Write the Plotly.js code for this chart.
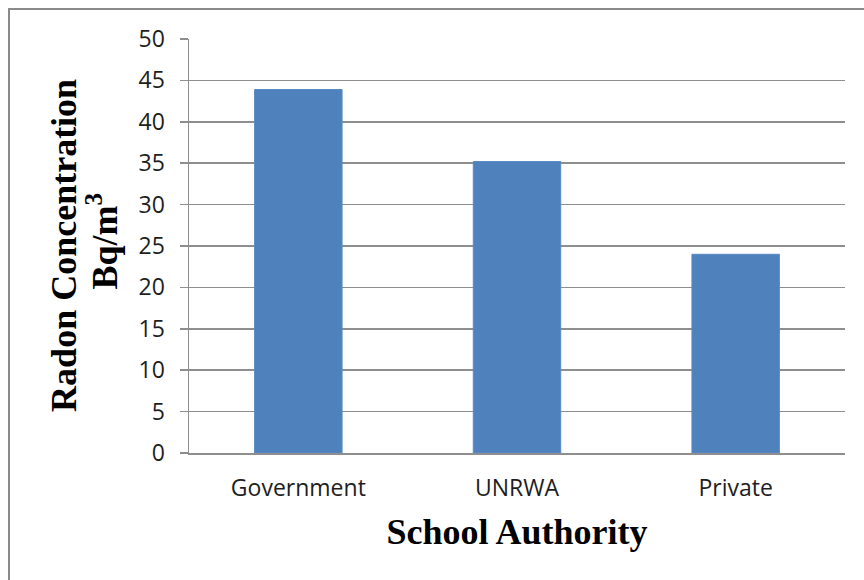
<!DOCTYPE html>
<html>
<head>
<meta charset="utf-8">
<script src="https://cdn.plot.ly/plotly-3.0.1.min.js"></script>
<style>
  html, body { margin: 0; padding: 0; background: #ffffff; overflow: hidden; }
  #wrap { position: relative; width: 864px; height: 580px; }
  #frame { position: absolute; left: 8px; top: 8px; width: 900px; height: 620px;
           border: 2px solid #8a8a8a; box-sizing: border-box; pointer-events: none; }
  #chart { position: absolute; left: 0; top: 0; width: 864px; height: 580px; }
</style>
</head>
<body>
<div id="wrap">
  <div id="chart"></div>
  <div id="frame"></div>
</div>
<script>
// Mean indoor radon level by school authority
const authorities = ['Government', 'UNRWA', 'Private'];
const radonLevels = [43.9, 35.2, 24.0];
const yTickValues = [0, 5, 10, 15, 20, 25, 30, 35, 40, 45, 50];
const yTitleLines = ['Radon Concentration', 'Bq/m<sup>3</sup>'];

const trace = {
  type: 'bar',
  x: authorities,
  y: radonLevels,
  marker: { color: '#4f81bd', line: { color: '#5a8ac6', width: 1 } },
  hoverinfo: 'x+y'
};

const serif = 'Liberation Serif, Times New Roman, serif';
const sans = 'Open Sans, DejaVu Sans, sans-serif';
const titleFont = { family: serif, size: 36, color: '#000000' };

const layout = {
  width: 864,
  height: 580,
  margin: { l: 189, r: 19, t: 39, b: 127 },
  paper_bgcolor: '#ffffff',
  plot_bgcolor: '#ffffff',
  showlegend: false,
  bargap: 0.6,
  xaxis: {
    type: 'category',
    showgrid: false,
    showline: true,
    linecolor: '#8e8e8e',
    linewidth: 1.5,
    ticks: '',
    ticklabelstandoff: 14,
    tickfont: { family: sans, size: 23, color: '#1e1e1e' },
    title: {
      text: '<b>School Authority</b>',
      font: titleFont,
      standoff: 16
    }
  },
  yaxis: {
    range: [0, 50],
    tickvals: yTickValues,
    ticktext: yTickValues.map(String),
    showgrid: true,
    gridcolor: '#8e8e8e',
    gridwidth: 1.5,
    showline: true,
    linecolor: '#8e8e8e',
    linewidth: 1.5,
    zeroline: false,
    ticks: 'outside',
    ticklen: 8,
    tickcolor: '#8e8e8e',
    tickwidth: 1.5,
    ticklabelstandoff: 10,
    tickfont: { family: sans, size: 23, color: '#1e1e1e' }
  },
  // two-line rotated y-axis title, each line placed on its own
  annotations: [
    {
      text: '<b>' + yTitleLines[0] + '</b>',
      xref: 'paper', yref: 'paper',
      x: -0.191, y: 0.502,
      xanchor: 'center', yanchor: 'middle',
      textangle: -90, showarrow: false,
      font: titleFont
    },
    {
      text: '<b>' + yTitleLines[1] + '</b>',
      xref: 'paper', yref: 'paper',
      x: -0.132, y: 0.512,
      xanchor: 'center', yanchor: 'middle',
      textangle: -90, showarrow: false,
      font: titleFont
    }
  ]
};

Plotly.newPlot('chart', [trace], layout, { displayModeBar: false, staticPlot: true });
</script>
</body>
</html>
